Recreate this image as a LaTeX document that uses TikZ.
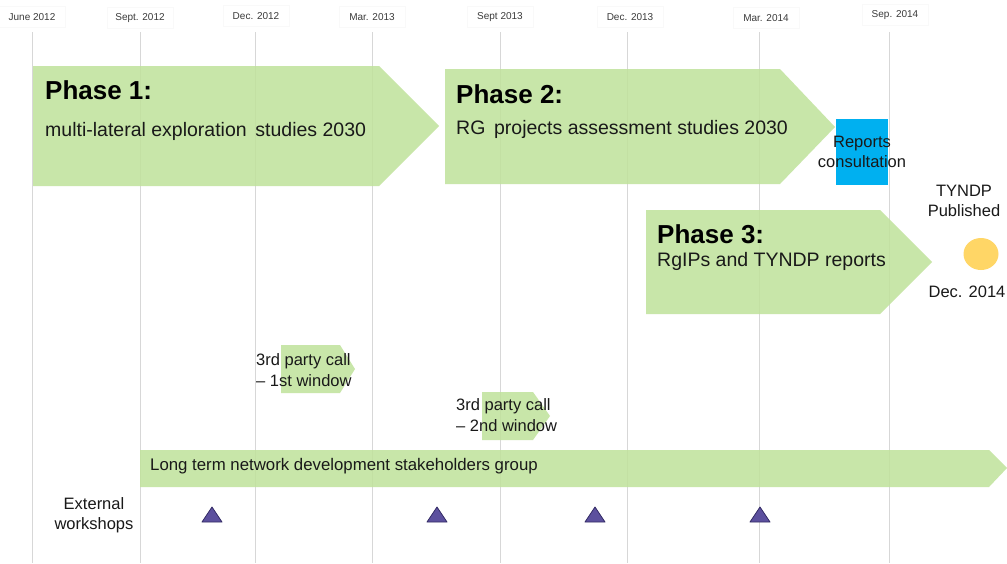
\documentclass[tikz,border=0pt]{standalone}
\usepackage{fontspec}
\setmainfont{Liberation Sans}
\definecolor{pgreen}{RGB}{192,226,155}
\definecolor{pblue}{RGB}{0,176,240}
\definecolor{pyellow}{RGB}{255,214,102}
\definecolor{tri}{RGB}{92,80,158}
\definecolor{trid}{RGB}{50,42,100}
\definecolor{gridc}{RGB}{215,215,215}
\definecolor{txt}{RGB}{25,25,25}
\begin{document}
\begin{tikzpicture}[x=1pt,y=-1pt,
 gridline/.style={draw=gridc, line width=0.8pt},
 datebox/.style={draw=gray!5, fill=white, inner sep=0pt, minimum width=66pt, minimum height=21pt, text=txt!85, font=\fontsize{10}{12}\selectfont},
 garrow/.style={fill=pgreen, fill opacity=0.86},
 phasetitle/.style={anchor=west, inner sep=0pt, font=\bfseries\fontsize{26}{28}\selectfont, text=black},
 phasesub/.style={anchor=west, inner sep=0pt, font=\fontsize{19.5}{22}\selectfont, text=txt},
 lbl/.style={inner sep=0pt, align=center, font=\fontsize{16.5}{20.5}\selectfont, text=txt},
 wshop/.style={fill=tri, draw=trid, line width=0.8pt, line join=round}]
\useasboundingbox (0,0) rectangle (1007,563);
\fill[white] (0,0) rectangle (1007,563);

% grid lines and date labels
\foreach \x/\y/\t [count=\i] in {32/17/June 2012, 140/18/Sept. 2012, 256/16/Dec. 2012, 372/17/Mar. 2013, 500/17/Sept 2013, 630/17/Dec. 2013, 766/18/Mar. 2014, 895/15/Sep. 2014}{
  \node[datebox] (d\i) at (\x,\y) {\t};
}
\foreach \x [count=\i] in {32,140,255,372,500,627,759,889}{
  \coordinate (gt\i) at (\x,32);
  \coordinate (gb\i) at (\x,563);
  \draw[gridline] (gt\i) -- (gb\i);
}

% phase arrows
\path[garrow] (33,66) -- (379,66) -- (439,126) -- (379,186) -- (33,186) -- cycle;
\path[garrow] (445,69) -- (780,69) -- (835,127) -- (780,184) -- (445,184) -- cycle;
\path[garrow] (646,210) -- (880,210) -- (932,262) -- (880,314) -- (646,314) -- cycle;
\path[garrow] (281,345) -- (340,345) -- (355,369) -- (340,393) -- (281,393) -- cycle;
\path[garrow] (482,392) -- (533,392) -- (550,416) -- (533,440) -- (482,440) -- cycle;
\path[garrow] (140,450) -- (989,450) -- (1007,468) -- (989,487) -- (140,487) -- cycle;

% reports box and milestone
\fill[pblue] (836,119) rectangle (888,185);
\fill[pyellow] (981,254) ellipse [x radius=17.5, y radius=16];

% texts
\node[phasetitle] (p1t) at (45,90) {Phase 1:};
\node[phasesub] (p1s) at (45,131) {multi-lateral exploration\, studies 2030};
\node[phasetitle] (p2t) at (456,94) {Phase 2:};
\node[phasesub] (p2s) at (456,129) {RG\, projects assessment studies 2030};
\node[phasetitle] (p3t) at (657,234) {Phase 3:};
\node[phasesub] (p3s) at (657,261) {RgIPs and TYNDP reports};
\node[lbl] (rep) at (862,152) {Reports\\consultation};
\node[lbl] (pub) at (964,201) {TYNDP\\Published};
\node[lbl] (dec) at (967,292) {Dec. 2014};
\node[lbl, anchor=west, align=left] (c1) at (256,370) {3rd party call\\-- 1st window};
\node[lbl, anchor=west, align=left] (c2) at (456,415) {3rd party call\\-- 2nd window};
\node[lbl, anchor=west, font=\fontsize{16.8}{20}\selectfont] (lt) at (150,466) {Long term network development stakeholders group};
\node[lbl] (ew) at (94,515) {External\\workshops};

% workshops
\foreach \x [count=\i] in {212,437,595,760}{
  \path[wshop] (\x-10,522) -- (\x,507) -- (\x+10,522) -- cycle;
}
\end{tikzpicture}
\end{document}
